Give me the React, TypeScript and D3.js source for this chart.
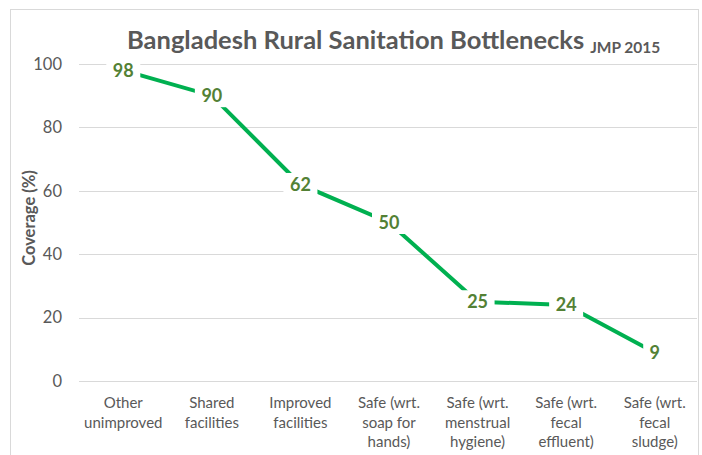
import React from "react";
import * as d3 from "d3";

const categories: string[][] = [
  ["Other", "unimproved"],
  ["Shared", "facilities"],
  ["Improved", "facilities"],
  ["Safe (wrt.", "soap for", "hands)"],
  ["Safe (wrt.", "menstrual", "hygiene)"],
  ["Safe (wrt.", "fecal", "effluent)"],
  ["Safe (wrt.", "fecal", "sludge)"],
];
const coverage: number[] = [98, 90, 62, 50, 25, 24, 9];
const yTicks: number[] = [0, 20, 40, 60, 80, 100];
const titleText = "Bangladesh Rural Sanitation Bottlenecks";
const subtitleText = "JMP 2015";
const yAxisTitle = "Coverage (%)";

const W = 702;
const H = 455;
const FONT = "Lato, 'Open Sans', sans-serif";
const GRAY = "#595959";

export default function App() {
  const x = d3
    .scaleBand<number>()
    .domain(d3.range(categories.length))
    .range([79, 699]);
  const y = d3.scaleLinear().domain([0, 100]).range([381, 64]);
  const cx = (i: number) => (x(i) as number) + x.bandwidth() / 2;
  const line = d3
    .line<number>()
    .x((_, i) => cx(i))
    .y((d) => y(d));

  return (
    <svg
      width={W}
      height={H}
      style={{ position: "absolute", left: 0, top: 0, background: "#fff" }}
    >
      <rect x={10.5} y={9.5} width={688} height={460} fill="#fff" stroke="#d9d9d9" />
      {yTicks.map((t) => (
        <g key={t}>
          <line x1={79} x2={697} y1={Math.round(y(t)) + 0.5} y2={Math.round(y(t)) + 0.5} stroke="#d9d9d9" strokeWidth={1} />
          <text
            x={62}
            y={y(t)}
            dy="0.35em"
            textAnchor="end"
            fontFamily={FONT}
            fontSize={16.5}
            fill={GRAY}
          >
            {t}
          </text>
        </g>
      ))}
      <text
        transform={`translate(29, ${218}) rotate(-90)`}
        textAnchor="middle"
        dy="0.35em"
        fontFamily={FONT}
        fontSize={16.5}
        fontWeight="bold"
        fill={GRAY}
      >
        {yAxisTitle}
      </text>
      <text x={127} y={49} fontFamily={FONT} fontSize={25.5} fontWeight="bold" fill={GRAY}>
        {titleText}
        <tspan dx={6} dy={4} fontSize={15.5}>
          {subtitleText}
        </tspan>
      </text>
      {categories.map((lines, i) => (
        <text
          key={i}
          x={cx(i)}
          y={408}
          textAnchor="middle"
          fontFamily={FONT}
          fontSize={15}
          fill={GRAY}
        >
          {lines.map((l, j) => (
            <tspan key={j} x={cx(i)} dy={j === 0 ? 0 : 19.5}>
              {l}
            </tspan>
          ))}
        </text>
      ))}
      <path d={line(coverage) || ""} fill="none" stroke="#00B050" strokeWidth={4} />
      {coverage.map((v, i) => {
        const w = String(v).length * 11 + 12;
        return (
          <g key={i}>
            <rect x={cx(i) - w / 2} y={y(v) - 11.5} width={w} height={23} fill="#fff" />
            <text
              x={cx(i)}
              y={y(v)}
              dy="0.36em"
              textAnchor="middle"
              fontFamily={FONT}
              fontSize={18}
              fontWeight="bold"
              fill="#538135"
            >
              {v}
            </text>
          </g>
        );
      })}
    </svg>
  );
}
